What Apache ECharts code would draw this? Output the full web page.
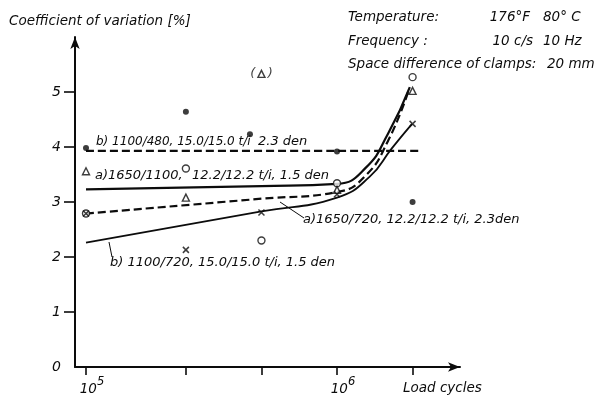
<!DOCTYPE html>
<html>
<head>
<meta charset="utf-8">
<script src="https://cdn.jsdelivr.net/npm/echarts@6/dist/echarts.min.js"></script>
<style>
  html, body { margin: 0; padding: 0; background: #fff; }
  #chart { width: 595px; height: 395px; }
</style>
</head>
<body>
<div id="chart"></div>
<script>
// ---- x axis: load cycles (plotted on a log10 scale) ----
const tickCycles = [1e5, 2.5e5, 5e5, 1e6, 2e6];
const labelCycles = [1e5, 1e6];
const cycleRange = [0.904e5, 3.09e6];

// ---- y axis: coefficient of variation [%] ----
const yTicks = [1, 2, 3, 4, 5];
const yLabels = [0, 1, 2, 3, 4, 5];

// ---- fitted curves ----
// b) 1100/480, 15.0/15.0 t/i, 2.3 den (dashed, level)
const curveB480X = [1e5, 2.15e6];
const curveB480Y = [3.93, 3.93];
// a) 1650/1100, 12.2/12.2 t/i, 1.5 den (solid, upper)
const curveA1100X = [1e5, 5e5, 1e6, 1.3e6, 1.6e6, 1.95e6];
const curveA1100Y = [3.23, 3.29, 3.33, 3.62, 4.25, 5.09];
// a) 1650/720, 12.2/12.2 t/i, 2.3 den (dashed, lower)
const curveA720X = [1e5, 5e5, 1e6, 1.3e6, 1.6e6, 1.92e6];
const curveA720Y = [2.79, 3.06, 3.18, 3.48, 4.12, 5.0];
// b) 1100/720, 15.0/15.0 t/i, 1.5 den (solid, lower)
const curveB720X = [1e5, 5e5, 1e6, 1.35e6, 1.65e6, 1.99e6];
const curveB720Y = [2.26, 2.83, 3.08, 3.46, 3.97, 4.42];

// ---- measured points ----
const dotX = [1e5, 2.5e5, 4.5e5, 1e6, 2e6];          // filled dots
const dotY = [3.98, 4.64, 4.23, 3.92, 3.0];
const circleX = [1e5, 2.5e5, 5e5, 1e6, 2e6];        // open circles
const circleY = [2.79, 3.61, 2.3, 3.34, 5.27];
const triangleX = [1e5, 2.5e5, 1e6, 2e6];           // open triangles
const triangleY = [3.56, 3.08, 3.22, 5.02];
const bracketTriangleX = [5e5];                     // triangle in brackets
const bracketTriangleY = [5.33];
const crossX = [1e5, 2.5e5, 5e5, 1e6, 2e6];         // crosses
const crossY = [2.79, 2.13, 2.81, 3.14, 4.42];

const lg = Math.log10;
const pairs = (xs, ys) => xs.map((x, i) => [lg(x), ys[i]]);

const INK = '#0c0c0c';
const FAM = '"DejaVu Sans"';
const font = (size) => `italic ${size}px ${FAM}`;

const chart = echarts.init(document.getElementById('chart'), null, { renderer: 'canvas' });

const lineSeries = (name, xs, ys, dashed, width) => ({
  name, type: 'line', data: pairs(xs, ys),
  smooth: 0.5, symbol: 'none', silent: true,
  lineStyle: { color: INK, width, type: dashed ? [8, 4] : 'solid', cap: 'butt' },
  z: 3
});

const markerStyle = { color: '#fff', borderColor: INK, borderWidth: 1.4 };

const texts = [
  // heading and test conditions
  { x: 9, y: 21, text: 'Coefficient of variation [%]', size: 13.5 },
  { x: 348, y: 17, text: 'Temperature:', size: 13.5 },
  { x: 530, y: 17, text: '176°F', size: 13.5, align: 'right' },
  { x: 543, y: 17, text: '80° C', size: 13.5 },
  { x: 348, y: 41, text: 'Frequency :', size: 13.5 },
  { x: 533, y: 41, text: '10 c/s', size: 13.5, align: 'right' },
  { x: 543, y: 41, text: '10 Hz', size: 13.5 },
  { x: 348, y: 64, text: 'Space difference of clamps:', size: 13.5 },
  { x: 547, y: 64, text: '20 mm', size: 13.5 },
  // curve captions
  { x: 96, y: 142, text: 'b) 1100/480, 15.0/15.0 t/i', size: 12 },
  { x: 258, y: 142, text: '2.3 den', size: 13 },
  { x: 95, y: 176, text: 'a)1650/1100,', size: 13 },
  { x: 192, y: 176, text: '12.2/12.2 t/i, 1.5 den', size: 13 },
  { x: 303, y: 220, text: 'a)1650/720, 12.2/12.2 t/i, 2.3den', size: 13 },
  { x: 110, y: 263, text: 'b) 1100/720, 15.0/15.0 t/i, 1.5 den', size: 13 }
];

const graphic = texts.map(t => ({
  type: 'text', x: t.x, y: t.y, silent: true,
  style: { text: t.text, font: font(t.size), fill: INK, align: t.align || 'left', verticalAlign: 'middle' }
})).concat([
  // caption leader lines
  { type: 'line', silent: true, shape: { x1: 280, y1: 202, x2: 304, y2: 218 }, style: { stroke: INK, lineWidth: 1 } },
  { type: 'line', silent: true, shape: { x1: 109, y1: 242, x2: 112, y2: 257 }, style: { stroke: INK, lineWidth: 1 } }
]);

chart.setOption({
  animation: false,
  backgroundColor: '#fff',
  grid: { left: 75, right: 135, top: 37, bottom: 28, containLabel: false, outerBoundsMode: 'none' },
  xAxis: {
    type: 'value',
    min: lg(cycleRange[0]), max: lg(cycleRange[1]),
    name: 'Load cycles',
    nameLocation: 'end',
    nameGap: -57,
    nameTextStyle: { fontFamily: FAM, fontStyle: 'italic', fontSize: 13.5, color: INK, align: 'left', verticalAlign: 'top', padding: [14, 0, 0, 0] },
    axisLine: { lineStyle: { color: INK, width: 2 }, symbol: ['none', 'arrow'], symbolSize: [7, 12], symbolOffset: [0, 0] },
    axisTick: { customValues: tickCycles.map(lg), length: 8, lineStyle: { color: INK, width: 1.6 } },
    axisLabel: {
      customValues: labelCycles.map(lg),
      margin: 9,
      formatter: v => `{b|10}{s|${Math.round(v)}}`,
      rich: {
        b: { fontFamily: FAM, fontStyle: 'italic', fontSize: 13.5, color: INK, lineHeight: 20, verticalAlign: 'bottom', padding: [0, 0, 0, 12] },
        s: { fontFamily: FAM, fontStyle: 'italic', fontSize: 11.5, color: INK, lineHeight: 12, verticalAlign: 'top' }
      }
    },
    splitLine: { show: false }
  },
  yAxis: {
    type: 'value', min: 0, max: 6,
    axisLine: { lineStyle: { color: INK, width: 2 }, symbol: ['none', 'arrow'], symbolSize: [7, 12], symbolOffset: [0, 0] },
    axisTick: { customValues: yTicks, length: 11, lineStyle: { color: INK, width: 1.6 } },
    axisLabel: { customValues: yLabels, margin: 14, fontFamily: FAM, fontStyle: 'italic', fontSize: 14, color: INK },
    splitLine: { show: false }
  },
  series: [
    lineSeries('b) 1100/480', curveB480X, curveB480Y, true, 2.2),
    lineSeries('a) 1650/1100', curveA1100X, curveA1100Y, false, 2.2),
    lineSeries('a) 1650/720', curveA720X, curveA720Y, true, 2.2),
    lineSeries('b) 1100/720', curveB720X, curveB720Y, false, 1.8),
    {
      name: 'circles', type: 'scatter', data: pairs(circleX, circleY),
      symbol: 'circle', symbolSize: 7, itemStyle: markerStyle, z: 5
    },
    {
      name: 'triangles', type: 'scatter', data: pairs(triangleX, triangleY),
      symbol: 'triangle', symbolSize: 7, itemStyle: markerStyle, z: 5
    },
    {
      name: 'triangles (bracketed)', type: 'scatter', data: pairs(bracketTriangleX, bracketTriangleY),
      symbol: 'triangle', symbolSize: 7, itemStyle: markerStyle, z: 5,
      label: { show: true, position: 'inside', formatter: '(   )', fontFamily: FAM, fontStyle: 'italic', fontSize: 13, color: INK }
    },
    {
      name: 'crosses', type: 'scatter', data: pairs(crossX, crossY),
      symbol: 'path://M0,0L10,10M10,0L0,10', symbolSize: 6,
      itemStyle: { color: 'none', borderColor: INK, borderWidth: 1.5 }, z: 6
    },
    {
      name: 'dots', type: 'scatter', data: pairs(dotX, dotY),
      symbol: 'circle', symbolSize: 6, itemStyle: { color: INK }, z: 6
    }
  ],
  graphic
});
</script>
</body>
</html>
